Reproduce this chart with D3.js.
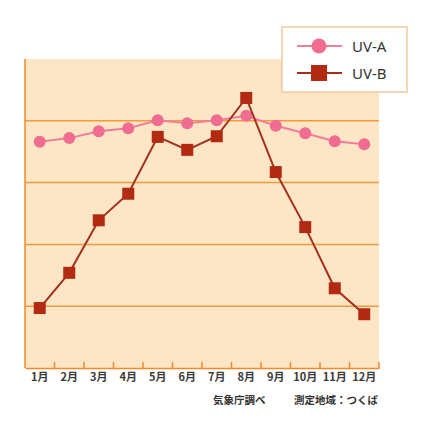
<!DOCTYPE html>
<html>
<head>
<meta charset="utf-8">
<script src="https://cdn.jsdelivr.net/npm/d3@7"></script>
<style>
  body { margin: 0; background: #fff; }
  svg { display: block; }
</style>
</head>
<body>
<script>
// months and monthly values (relative units)
var months = ['1月','2月','3月','4月','5月','6月','7月','8月','9月','10月','11月','12月'];
var uvA = [3.66, 3.72, 3.83, 3.88, 4.01, 3.96, 4.01, 4.08, 3.92, 3.80, 3.67, 3.62];
var uvB = [0.97, 1.54, 2.39, 2.82, 3.74, 3.53, 3.75, 4.37, 3.17, 2.28, 1.29, 0.87];
var gridValues = [1, 2, 3, 4];
var seriesNames = ['UV-A', 'UV-B'];

var W = 432, H = 433;
// note: "top" is reserved on window, so plot edges get a prefix
var plotL = 25, plotR = 379, plotT = 59, plotB = 368;

var svg = d3.select('body').append('svg')
  .attr('width', W).attr('height', H);

var x = d3.scaleBand().domain(months).range([plotL, plotR]);
var y = d3.scaleLinear().domain([0, 5]).range([plotB, plotT]);

// plot background
svg.append('rect')
  .attr('x', plotL).attr('y', plotT)
  .attr('width', plotR - plotL).attr('height', plotB - plotT)
  .attr('fill', '#fde6c6');

// horizontal grid
svg.selectAll('.grid').data(gridValues).enter().append('line')
  .attr('x1', plotL).attr('x2', plotR)
  .attr('y1', function(d) { return y(d); })
  .attr('y2', function(d) { return y(d); })
  .attr('stroke', '#f29a3e').attr('stroke-width', 1.5);

// axes
svg.append('line')
  .attr('x1', plotL).attr('x2', plotL).attr('y1', plotT).attr('y2', plotB)
  .attr('stroke', '#f08a2a').attr('stroke-width', 1.5);

var xAxis = svg.append('g')
  .attr('transform', 'translate(0,' + plotB + ')')
  .call(d3.axisBottom(x).tickSize(0).tickPadding(5));
xAxis.select('.domain').attr('stroke', '#f08a2a').attr('stroke-width', 1.5);
xAxis.selectAll('text')
  .attr('fill', '#3a3a3a')
  .style('font-family', '"Noto Sans CJK JP", sans-serif')
  .style('font-size', '11px')
  .style('font-weight', 'bold');

// tick marks on band edges
svg.selectAll('.tk').data(months).enter().append('line')
  .attr('x1', function(d) { return x(d) + x.bandwidth(); })
  .attr('x2', function(d) { return x(d) + x.bandwidth(); })
  .attr('y1', plotB).attr('y2', plotB - 6)
  .attr('stroke', '#f08a2a').attr('stroke-width', 1.5);

var cx = function(d, i) { return x(months[i]) + x.bandwidth() / 2; };
var line = d3.line().x(cx).y(function(d) { return y(d); });

// UV-A
svg.append('path').datum(uvA)
  .attr('d', line).attr('fill', 'none')
  .attr('stroke', '#f27d9b').attr('stroke-width', 2);
svg.selectAll('.ca').data(uvA).enter().append('circle')
  .attr('cx', cx).attr('cy', function(d) { return y(d); })
  .attr('r', 6).attr('fill', '#f06c90');

// UV-B
svg.append('path').datum(uvB)
  .attr('d', line).attr('fill', 'none')
  .attr('stroke', '#a5301c').attr('stroke-width', 2);
svg.selectAll('.sb').data(uvB).enter().append('rect')
  .attr('x', function(d, i) { return cx(d, i) - 6; })
  .attr('y', function(d) { return y(d) - 6; })
  .attr('width', 12).attr('height', 12)
  .attr('fill', '#b22a12');

// legend
var lg = svg.append('g');
lg.append('rect')
  .attr('x', 282).attr('y', 27).attr('width', 125).attr('height', 65)
  .attr('fill', '#fff').attr('stroke', '#f2c9a0').attr('stroke-width', 1.5);
var legendColors = [['#f27d9b', '#f06c90'], ['#a5301c', '#b22a12']];
seriesNames.forEach(function(name, i) {
  var ly = 46 + i * 27;
  lg.append('line').attr('x1', 297).attr('x2', 342).attr('y1', ly).attr('y2', ly)
    .attr('stroke', legendColors[i][0]).attr('stroke-width', 2);
  if (i == 0) {
    lg.append('circle').attr('cx', 319).attr('cy', ly).attr('r', 7.5)
      .attr('fill', legendColors[i][1]);
  } else {
    lg.append('rect').attr('x', 311).attr('y', ly - 8).attr('width', 16).attr('height', 16)
      .attr('fill', legendColors[i][1]);
  }
  lg.append('text').attr('x', 352).attr('y', ly + 5.5)
    .attr('fill', '#333')
    .style('font-family', '"Noto Sans", sans-serif')
    .style('font-size', '15px')
    .text(name);
});

// source notes
svg.append('text').attr('x', 213).attr('y', 404)
  .attr('fill', '#333')
  .style('font-family', '"Noto Sans CJK JP", sans-serif')
  .style('font-size', '10.5px').style('font-weight', 'bold')
  .text('気象庁調べ');
svg.append('text').attr('x', 378).attr('y', 404).attr('text-anchor', 'end')
  .attr('fill', '#333')
  .style('font-family', '"Noto Sans CJK JP", sans-serif')
  .style('font-size', '10.5px').style('font-weight', 'bold')
  .text('測定地域：つくば');
</script>
</body>
</html>
